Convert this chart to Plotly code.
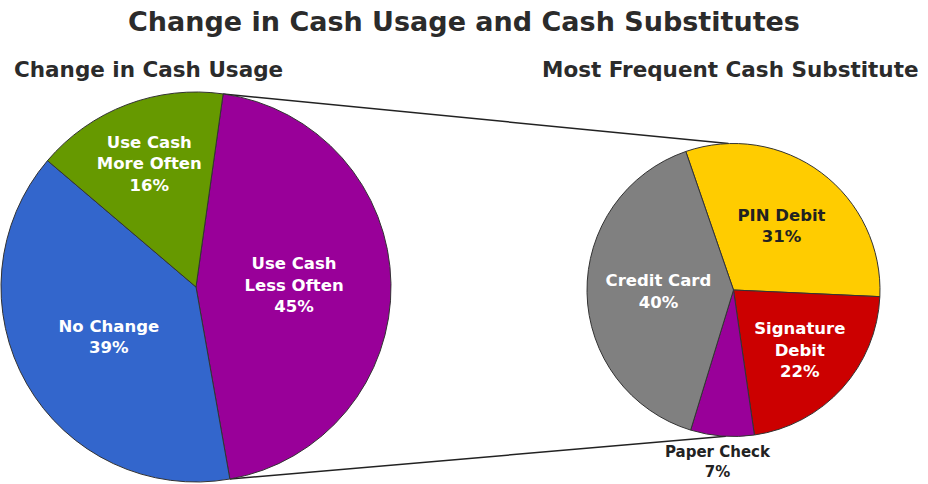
import math
import plotly.graph_objects as go

W, H = 928, 484

# Left pie: change in cash usage
usage_labels = ["Use Cash<br>Less Often", "No Change", "Use Cash<br>More Often"]
usage_values = [45, 39, 16]
usage_colors = ["#990099", "#3366CC", "#669900"]

# Right pie: most frequent cash substitute
subst_labels = ["PIN Debit", "Signature<br>Debit", "Paper Check", "Credit Card"]
subst_values = [31, 22, 7, 40]
subst_colors = ["#FFCC00", "#CC0000", "#990099", "#808080"]
subst_text_colors = ["#222222", "#FFFFFF", "#222222", "#FFFFFF"]
# the small slice is labelled below the pie instead of inside it
subst_text_pos = ["inside", "inside", "none", "inside"]

FONT = "DejaVu Sans"
LABEL_SIZE = 16.5

# pie domains (paper fractions)
left_dom = dict(x=[0.0, 392 / W], y=[1 - 482 / H, 1 - 92 / H])
right_dom = dict(x=[587 / W, 880 / W], y=[1 - 437 / H, 1 - 143 / H])
left_rot = 8
right_rot = -19

fig = go.Figure()

fig.add_trace(go.Pie(
    labels=usage_labels,
    values=usage_values,
    sort=False,
    direction="clockwise",
    rotation=left_rot,
    domain=left_dom,
    marker=dict(colors=usage_colors, line=dict(color="#333333", width=1)),
    texttemplate="<b>%{label}<br>%{value}%</b>",
    textposition="inside",
    insidetextorientation="horizontal",
    textfont=dict(family=FONT, size=LABEL_SIZE, color="#FFFFFF"),
    showlegend=False,
    hoverinfo="label+percent",
))

fig.add_trace(go.Pie(
    labels=subst_labels,
    values=subst_values,
    sort=False,
    direction="clockwise",
    rotation=right_rot,
    domain=right_dom,
    marker=dict(colors=subst_colors, line=dict(color="#333333", width=1)),
    texttemplate="<b>%{label}<br>%{value}%</b>",
    textposition=subst_text_pos,
    insidetextorientation="horizontal",
    textfont=dict(family=FONT, size=LABEL_SIZE, color=subst_text_colors),
    showlegend=False,
    hoverinfo="label+percent",
))


def pie_geom(dom):
    # centre and radius of a pie in pixel space from its domain
    x0, x1 = dom["x"][0] * W, dom["x"][1] * W
    y0, y1 = (1 - dom["y"][1]) * H, (1 - dom["y"][0]) * H
    r = min(x1 - x0, y1 - y0) / 2
    return (x0 + x1) / 2, (y0 + y1) / 2, r


def edge_point(cx, cy, r, deg):
    a = math.radians(deg)
    return cx + r * math.sin(a), cy - r * math.cos(a)


lcx, lcy, lr = pie_geom(left_dom)
rcx, rcy, rr = pie_geom(right_dom)

# connector lines from the edges of the "less often" slice to the second pie
start = left_rot
end = left_rot + 360 * usage_values[0] / sum(usage_values)
p_top = edge_point(lcx, lcy, lr, start)
p_bot = edge_point(lcx, lcy, lr, end)
q_top = edge_point(rcx, rcy, rr, -2)
q_bot = edge_point(rcx, rcy, rr, 183)

for p, q in [(p_top, q_top), (p_bot, q_bot)]:
    fig.add_shape(type="line", xref="paper", yref="paper",
                  x0=p[0] / W, y0=1 - p[1] / H, x1=q[0] / W, y1=1 - q[1] / H,
                  line=dict(color="#222222", width=1.5), layer="below")

# outside label for the small slice, placed under its mid-angle
total = sum(subst_values)
k = 2
mid = right_rot + 360 * (sum(subst_values[:k]) + subst_values[k] / 2) / total
lx, _ = edge_point(rcx, rcy, rr, mid)
fig.add_annotation(text=f"<b>{subst_labels[k]}<br>{subst_values[k]}%</b>",
                   x=(lx - 4) / W, y=1.5 / H,
                   xref="paper", yref="paper", xanchor="center", yanchor="bottom",
                   showarrow=False,
                   font=dict(family=FONT, size=15, color=subst_text_colors[k]))

fig.add_annotation(text="<b>Change in Cash Usage and Cash Substitutes</b>",
                   x=0.5, y=1 - 22 / H, xref="paper", yref="paper",
                   xanchor="center", yanchor="middle", showarrow=False,
                   font=dict(family=FONT, size=27, color="#2b2b2b"))
fig.add_annotation(text="<b>Change in Cash Usage</b>",
                   x=12 / W, y=1 - 70 / H, xref="paper", yref="paper",
                   xanchor="left", yanchor="middle", showarrow=False,
                   font=dict(family=FONT, size=21.5, color="#2b2b2b"))
fig.add_annotation(text="<b>Most Frequent Cash Substitute</b>",
                   x=921 / W, y=1 - 70 / H, xref="paper", yref="paper",
                   xanchor="right", yanchor="middle", showarrow=False,
                   font=dict(family=FONT, size=21.5, color="#2b2b2b"))

fig.update_layout(
    width=W, height=H,
    margin=dict(l=0, r=0, t=0, b=0),
    paper_bgcolor="#FFFFFF",
    plot_bgcolor="#FFFFFF",
    font=dict(family=FONT),
)

fig.write_html("out.html")
